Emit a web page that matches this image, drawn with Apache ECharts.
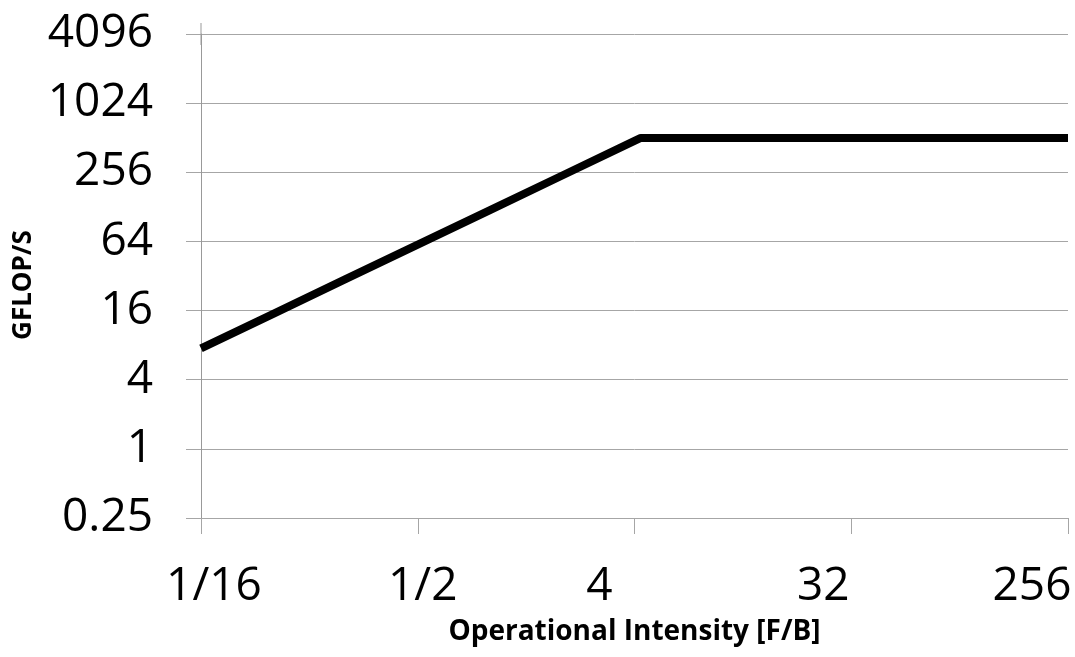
<!DOCTYPE html>
<html>
<head>
<meta charset="utf-8">
<script src="https://cdn.jsdelivr.net/npm/echarts@6/dist/echarts.min.js"></script>
<style>
	html, body { margin: 0; padding: 0; background: #fff; }
	#chart { width: 1075px; height: 657px; }
</style>
</head>
<body>
<div id="chart"></div>
<script>
// Roofline
const intensity = [0.0625, 0.125, 0.25, 0.5, 1, 2, 4, 4.25, 8, 16, 32, 64, 128, 256];
const gflops = [7.5, 15, 30, 60, 120, 240, 480, 510, 510, 510, 510, 510, 510, 510];

const xTicks = [0.0625, 0.5, 4, 32, 256];
const xTickLabels = ['1/16', '1/2', '4', '32', '256'];
const yTicks = [0.25, 1, 4, 16, 64, 256, 1024, 4096];

const xName = 'Operational Intensity [F/B]';
const yName = 'GFLOP/S';

// label offsets (px) so the x labels sit where the original put them
const xLabelShift = [13, 5, -35, -28, -36];

let font = '"Open Sans", "Liberation Sans", sans-serif';
let axisGray = '#a6a6a6';

let rich = {};
xLabelShift.forEach(function (s, i) {
	rich['l' + i] = {
		fontFamily: font,
		fontSize: 46,
		color: '#000',
		padding: s > 0 ? [0, 0, 0, 2 * s] : [0, -2 * s, 0, 0]
	};
});

function xLabel (value) {
	for (let i = 0; i < xTicks.length; i++) {
		if (Math.abs(value - xTicks[i]) < 1e-9) {
			return '{l' + i + '|' + xTickLabels[i] + '}';
		};
	};
	return '';
};

function yLabel (value) {
	for (let i = 0; i < yTicks.length; i++) {
		if (Math.abs(value - yTicks[i]) < 1e-9) {
			return String(yTicks[i]);
		};
	};
	return '';
};

let myChart = echarts.init(document.getElementById('chart'), null, { renderer: 'canvas' });

myChart.setOption({
	animation: false,
	backgroundColor: '#fff',
	grid: {
		left: 201,
		right: 7,
		top: 34,
		bottom: 139,
		containLabel: false
	},
	xAxis: {
		type: 'log',
		logBase: 2,
		min: 0.0625,
		max: 256,
		interval: 3,
		name: xName,
		nameLocation: 'middle',
		nameGap: 100,
		nameTextStyle: {
			fontFamily: font,
			fontSize: 28,
			fontWeight: 'bold',
			color: '#000'
		},
		axisLine: {
			show: true,
			lineStyle: { color: axisGray, width: 1 }
		},
		axisTick: {
			show: true,
			inside: false,
			length: 16,
			customValues: xTicks,
			lineStyle: { color: axisGray, width: 1 }
		},
		axisLabel: {
			margin: 46,
			customValues: xTicks,
			formatter: xLabel,
			rich: rich,
			hideOverlap: false,
			showMinLabel: true,
			showMaxLabel: true
		},
		splitLine: { show: false },
		minorTick: { show: false }
	},
	yAxis: {
		type: 'log',
		logBase: 4,
		min: 0.25,
		max: 4096,
		name: yName,
		nameLocation: 'middle',
		nameGap: 161,
		nameTextStyle: {
			fontFamily: font,
			fontSize: 26,
			fontWeight: 'bold',
			color: '#000',
			padding: [0, 18, 0, 0]
		},
		axisLine: {
			show: true,
			symbol: ['none', 'rect'],
			symbolSize: [1, 22],
			lineStyle: { color: '#999', width: 1 }
		},
		axisTick: {
			show: true,
			inside: false,
			length: 15,
			lineStyle: { color: axisGray, width: 1 }
		},
		axisLabel: {
			margin: 48,
			fontFamily: font,
			fontSize: 46,
			color: '#000',
			formatter: yLabel,
			showMinLabel: true,
			showMaxLabel: true
		},
		splitLine: {
			show: true,
			lineStyle: { color: axisGray, width: 1 }
		}
	},
	series: [{
		type: 'line',
		data: intensity.map(function (x, i) { return [x, gflops[i]]; }),
		showSymbol: false,
		symbol: 'none',
		lineStyle: { color: '#000', width: 8, cap: 'butt', join: 'round' },
		clip: false
	}]
});
</script>
</body>
</html>
